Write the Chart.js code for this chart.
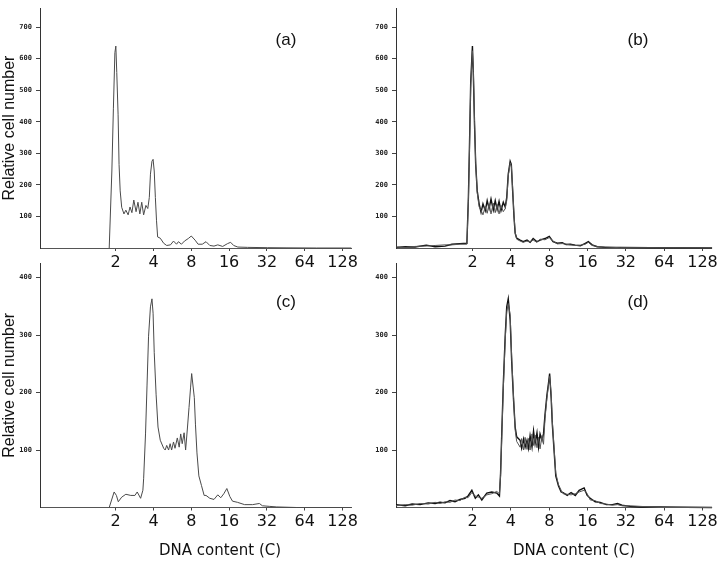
<!DOCTYPE html>
<html>
<head>
<meta charset="utf-8">
<script src="https://cdn.jsdelivr.net/npm/chart.js@4"></script>
<style>
  body { margin: 0; background: #fff; }
  #wrap { position: relative; width: 720px; height: 565px; overflow: hidden; }
  .panel { position: absolute; }
  .xtitle { position: absolute; top: 541px; font: 15px 'DejaVu Sans'; color: #111; transform: translateX(-50%); white-space: nowrap; }
</style>
</head>
<body>
<div id="wrap">
  <div class="panel" style="left:0;top:0"><canvas id="chartA" width="360" height="275"></canvas></div>
  <div class="panel" style="left:356px;top:0"><canvas id="chartB" width="364" height="275"></canvas></div>
  <div class="panel" style="left:0;top:255px"><canvas id="chartC" width="360" height="300"></canvas></div>
  <div class="panel" style="left:356px;top:255px"><canvas id="chartD" width="364" height="300"></canvas></div>
  <div class="xtitle" style="left:220px">DNA content (C)</div>
  <div class="xtitle" style="left:574px">DNA content (C)</div>
</div>
<script>
// x values are log2 of DNA content (C); tick 1 = 2C, 2 = 4C ...
const xTickPos = [1, 2, 3, 4, 5, 6, 7];
const xTickLabels = ['2', '4', '8', '16', '32', '64', '128'];
const yTicksTop = [100, 200, 300, 400, 500, 600, 700];
const yTicksBottom = [100, 200, 300, 400];

// (a)
const xA = [0.83, 0.90, 0.94, 0.98, 1.005, 1.03, 1.065, 1.09, 1.12, 1.16, 1.22, 1.27, 1.33, 1.38, 1.43, 1.48, 1.54, 1.59, 1.64, 1.69,
  1.74, 1.80, 1.85, 1.89, 1.92, 1.96, 1.99, 2.02, 2.05, 2.08, 2.11, 2.18, 2.27, 2.35, 2.45, 2.53, 2.61, 2.66, 2.74, 2.82,
  2.92, 3.00, 3.10, 3.18, 3.29, 3.39, 3.49, 3.60, 3.70, 3.83, 3.96, 4.04, 4.12, 4.23, 4.49, 5.01, 5.53, 6.31, 7.23];
const yA = [0, 244, 441, 619, 640, 556, 422, 265, 181, 129, 108, 120, 105, 130, 112, 152, 115, 145, 108, 145,
  105, 135, 125, 160, 234, 275, 281, 244, 160, 88, 35, 31, 15, 8, 10, 22, 12, 20, 12, 22,
  30, 38, 25, 12, 12, 20, 8, 6, 10, 5, 14, 18, 8, 3, 2, 1, 0.5, 0, 0];

// (b) two overlaid runs
const xB = [-1.0, -0.76, -0.5, -0.21, 0.02, 0.28, 0.46, 0.67, 0.85, 0.89, 0.92, 0.95, 0.995, 1.02, 1.05, 1.08, 1.12, 1.17, 1.22, 1.27,
  1.33, 1.38, 1.43, 1.48, 1.54, 1.59, 1.64, 1.69, 1.74, 1.80, 1.85, 1.89, 1.93, 1.98, 2.01, 2.04, 2.08, 2.11, 2.15, 2.24,
  2.32, 2.42, 2.50, 2.58, 2.68, 2.76, 2.89, 3.00, 3.10, 3.21, 3.34, 3.44, 3.55, 3.68, 3.81, 3.94, 4.02, 4.12, 4.25, 4.46,
  4.85, 5.63, 7.25];
const yB1 = [2, 4, 3, 9, 4, 6, 12, 14, 15, 160, 337, 525, 640, 546, 390, 265, 181, 140, 113, 140,
  118, 150, 125, 155, 120, 150, 122, 148, 118, 145, 130, 160, 234, 275, 265, 192, 98, 47, 31, 25,
  20, 25, 18, 30, 20, 25, 30, 37, 20, 15, 17, 11, 12, 9, 7, 15, 20, 10, 4, 2,
  2, 1, 0];
const yB2 = [3, 2, 5, 6, 8, 10, 10, 12, 12, 150, 320, 510, 625, 560, 400, 270, 175, 130, 120, 105,
  132, 110, 140, 108, 142, 112, 138, 108, 135, 115, 125, 150, 228, 270, 262, 200, 105, 50, 28, 22,
  18, 22, 20, 25, 18, 28, 26, 33, 22, 13, 14, 12, 10, 8, 9, 12, 18, 8, 5, 3,
  1, 1, 0];

// (c)
const xC = [0.83, 0.96, 1.02, 1.07, 1.16, 1.27, 1.40, 1.51, 1.57, 1.66, 1.72, 1.74, 1.79, 1.83, 1.87, 1.92, 1.96, 1.99, 2.02, 2.07,
  2.12, 2.18, 2.27, 2.31, 2.35, 2.40, 2.44, 2.48, 2.53, 2.57, 2.63, 2.68, 2.72, 2.76, 2.81, 2.85, 2.90, 2.94, 2.98, 3.01,
  3.08, 3.11, 3.15, 3.20, 3.27, 3.34, 3.39, 3.49, 3.60, 3.70, 3.78, 3.86, 3.94, 4.02, 4.09, 4.22, 4.41, 4.62, 4.80, 4.88,
  5.06, 5.26, 5.78, 7.23];
const yC = [0, 27, 21, 10, 18, 23, 21, 21, 27, 16, 30, 50, 128, 213, 298, 349, 363, 338, 270, 196,
  140, 117, 103, 100, 108, 100, 111, 100, 114, 103, 121, 105, 128, 111, 130, 100, 140, 174, 208, 233,
  191, 145, 95, 55, 38, 21, 21, 16, 14, 22, 17, 24, 33, 19, 11, 9, 5, 5, 7, 3,
  2, 1, 0, 0];

// (d) two overlaid runs
const xD = [-1.0, -0.76, -0.58, -0.37, -0.16, 0.02, 0.15, 0.28, 0.41, 0.54, 0.67, 0.80, 0.88, 0.98, 1.07, 1.15, 1.24, 1.37, 1.50, 1.63,
  1.70, 1.73, 1.76, 1.80, 1.85, 1.89, 1.93, 1.98, 2.02, 2.07, 2.11, 2.15, 2.24, 2.28, 2.33, 2.37, 2.42, 2.46, 2.50, 2.55,
  2.59, 2.63, 2.68, 2.72, 2.76, 2.81, 2.85, 2.89, 2.94, 2.98, 3.01, 3.05, 3.08, 3.13, 3.17, 3.24, 3.31, 3.36, 3.47, 3.57,
  3.68, 3.78, 3.91, 3.99, 4.07, 4.20, 4.33, 4.49, 4.65, 4.78, 4.90, 5.11, 5.37, 5.89, 7.25];
const yD1 = [5, 3, 6, 5, 8, 7, 9, 8, 12, 10, 14, 16, 20, 30, 16, 22, 13, 25, 27, 25,
  20, 60, 128, 213, 298, 349, 363, 326, 253, 185, 140, 123, 117, 103, 119, 105, 117, 103, 125, 105,
  133, 111, 130, 105, 128, 117, 128, 162, 196, 216, 233, 191, 145, 95, 55, 38, 27, 26, 21, 26,
  21, 30, 34, 21, 16, 10, 9, 5, 5, 7, 4, 2, 1, 1, 0];
const yD2 = [3, 5, 4, 7, 6, 9, 7, 10, 9, 13, 12, 18, 17, 26, 20, 18, 16, 22, 24, 28,
  24, 55, 120, 205, 290, 340, 355, 335, 262, 190, 135, 115, 105, 120, 100, 122, 101, 120, 100, 128,
  108, 126, 104, 122, 102, 125, 110, 155, 190, 212, 228, 198, 150, 100, 60, 40, 30, 24, 23, 22,
  24, 27, 30, 24, 13, 12, 7, 6, 4, 5, 3, 3, 2, 0, 0];

// small plugin to write the (a)/(b)/... tag inside each panel
const panelTag = {
  id: 'panelTag',
  afterDraw(chart, args, opts) {
    const ctx = chart.ctx;
    ctx.save();
    ctx.font = '17px "Liberation Sans", Arial, sans-serif';
    ctx.fillStyle = '#111';
    ctx.textAlign = 'center';
    ctx.textBaseline = 'middle';
    ctx.fillText(opts.text, opts.x, opts.y);
    ctx.restore();
  }
};

function series(xs, ys) {
  return xs.map((x, i) => ({ x: x, y: ys[i] }));
}

function makePanel(canvasId, cfg) {
  const datasets = cfg.lines.map(l => ({
    data: series(l.x, l.y),
    borderColor: l.color,
    borderWidth: l.width,
    pointRadius: 0,
    tension: 0,
    fill: false,
    clip: 2
  }));

  return new Chart(document.getElementById(canvasId), {
    type: 'line',
    data: { datasets },
    plugins: [panelTag],
    options: {
      responsive: false,
      animation: false,
      layout: { padding: { top: 3, right: cfg.padRight, left: 0, bottom: 0 } },
      plugins: {
        legend: { display: false },
        tooltip: { enabled: false },
        panelTag: { text: cfg.tag, x: cfg.tagX, y: cfg.tagY }
      },
      scales: {
        x: {
          type: 'linear',
          min: -1,
          max: 7.24,
          afterBuildTicks: s => { s.ticks = xTickPos.map(v => ({ value: v })); },
          afterFit: s => { s.height = cfg.xAxisH; },
          ticks: {
            autoSkip: false,
            maxRotation: 0,
            padding: 2,
            color: '#111',
            font: { family: 'DejaVu Sans', size: 16 },
            callback: (v, i) => xTickLabels[i]
          },
          grid: { drawOnChartArea: false, tickLength: 3, color: '#444' },
          border: { color: '#555', width: 1 }
        },
        y: {
          type: 'linear',
          min: 0,
          max: cfg.yMax,
          afterBuildTicks: s => { s.ticks = cfg.yTicks.map(v => ({ value: v })); },
          afterFit: s => { s.width = 40; },
          ticks: {
            padding: 4,
            color: '#222',
            font: { family: 'DejaVu Sans Mono', size: 7, weight: 'bold' }
          },
          grid: { drawOnChartArea: false, tickLength: 4, color: '#444' },
          border: { color: '#333', width: 1 },
          title: {
            display: cfg.yTitle,
            text: 'Relative cell number',
            color: '#111',
            padding: 0,
            font: { family: 'Liberation Sans', size: 16 }
          }
        }
      }
    }
  });
}

makePanel('chartA', {
  lines: [{ x: xA, y: yA, color: '#4a4a4a', width: 1 }],
  yMax: 760, yTicks: yTicksTop, xAxisH: 27, padRight: 5, yTitle: true,
  tag: '(a)', tagX: 286, tagY: 40
});
makePanel('chartB', {
  lines: [
    { x: xB, y: yB2, color: '#555', width: 1 },
    { x: xB, y: yB1, color: '#111', width: 1.4 }
  ],
  yMax: 760, yTicks: yTicksTop, xAxisH: 27, padRight: 8, yTitle: false,
  tag: '(b)', tagX: 282, tagY: 40
});
makePanel('chartC', {
  lines: [{ x: xC, y: yC, color: '#4a4a4a', width: 1 }],
  yMax: 425, yTicks: yTicksBottom, xAxisH: 47.5, padRight: 5, yTitle: true,
  tag: '(c)', tagX: 286, tagY: 47
});
makePanel('chartD', {
  lines: [
    { x: xD, y: yD2, color: '#555', width: 1 },
    { x: xD, y: yD1, color: '#111', width: 1.4 }
  ],
  yMax: 425, yTicks: yTicksBottom, xAxisH: 47.5, padRight: 8, yTitle: false,
  tag: '(d)', tagX: 282, tagY: 47
});
</script>
</body>
</html>
